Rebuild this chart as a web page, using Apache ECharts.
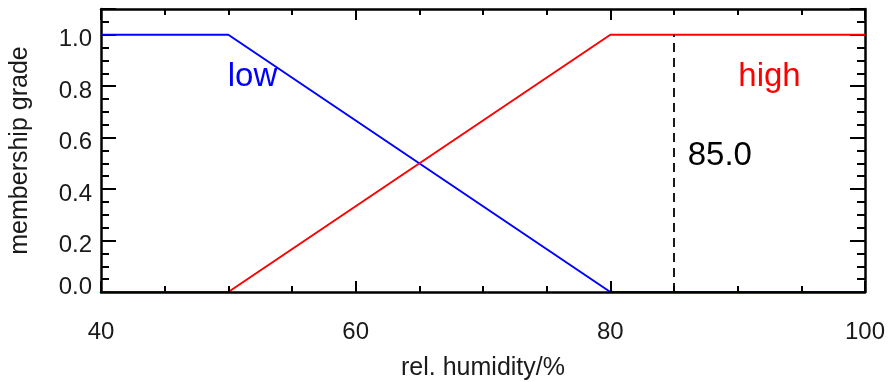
<!DOCTYPE html>
<html>
<head>
<meta charset="utf-8">
<script src="https://cdn.jsdelivr.net/npm/echarts@6/dist/echarts.min.js"></script>
<style>
  html, body { margin: 0; padding: 0; background: #fff; }
  #chart { width: 890px; height: 382px; }
</style>
</head>
<body>
<div id="chart"></div>
<script>
// membership functions (breakpoints in rel. humidity / %)
const humidity = [40, 50, 80, 100];
const lowGrade = [1, 1, 0, 0];
const highGrade = [0, 0, 1, 1];
const threshold = 85.0;

// text annotations: [x, y, text, color]
const notes = [
  [51.9, 0.835, "low", "#0000ff"],
  [92.5, 0.835, "high", "#ff0000"],
  [88.6, 0.53, threshold.toFixed(1), "#000000"],
];

const FONT = "'Liberation Sans', Arial, Helvetica, sans-serif";
const chart = echarts.init(document.getElementById("chart"));

const frameLine = { show: true, onZero: false, lineStyle: { color: "#000", width: 2.5 } };

const xBase = {
  type: "value",
  min: 40,
  max: 100,
  interval: 20,
  axisLine: frameLine,
  axisTick: { show: true, inside: true, length: 11, lineStyle: { color: "#000", width: 2 } },
  minorTick: { show: true, splitNumber: 4, length: 6, lineStyle: { color: "#000", width: 2 } },
  splitLine: { show: false },
};

const yBase = {
  type: "value",
  min: 0,
  max: 1.1,
  interval: 0.2,
  z: 0,
  axisLine: frameLine,
  axisTick: { show: true, inside: true, length: 15, lineStyle: { color: "#000", width: 2 } },
  minorTick: { show: true, splitNumber: 4, length: 8, lineStyle: { color: "#000", width: 2 } },
  splitLine: { show: false },
};

const option = {
  backgroundColor: "#fff",
  animation: false,
  grid: { left: 101, right: 25, top: 9, bottom: 90, containLabel: false, outerBoundsMode: "none" },
  xAxis: [
    {
      ...xBase,
      position: "bottom",
      z: 5,
      name: "rel. humidity/%",
      nameLocation: "middle",
      nameGap: 64,
      nameTextStyle: { fontFamily: FONT, fontSize: 25, color: "#1a1a1a", verticalAlign: "top" },
      axisLabel: { margin: 28, fontFamily: FONT, fontSize: 24, color: "#1a1a1a" },
    },
    { ...xBase, position: "top", z: 0, axisLabel: { show: false } },
  ],
  yAxis: [
    {
      ...yBase,
      position: "left",
      name: "membership grade",
      nameLocation: "middle",
      nameGap: 68,
      nameTextStyle: { fontFamily: FONT, fontSize: 25, color: "#1a1a1a" },
      axisLabel: {
        margin: 9,
        showMaxLabel: false,
        fontFamily: FONT,
        fontSize: 24,
        color: "#1a1a1a",
        formatter: (v) => (v === 0 ? "{z|0.0}" : v <= 1 ? "{n|" + v.toFixed(1) + "}" : ""),
        rich: {
          n: { fontFamily: FONT, fontSize: 24, color: "#1a1a1a", padding: [10, 0, 0, 0] },
          z: { fontFamily: FONT, fontSize: 24, color: "#1a1a1a", padding: [0, 0, 9, 0] },
        },
      },
    },
    { ...yBase, position: "right", axisLabel: { show: false } },
  ],
  series: [
    {
      type: "line",
      data: humidity.map((h, i) => [h, lowGrade[i]]),
      symbol: "none",
      lineStyle: { color: "#0000ff", width: 2 },
      z: 2,
    },
    {
      type: "line",
      data: humidity.map((h, i) => [h, highGrade[i]]),
      symbol: "none",
      lineStyle: { color: "#ff0000", width: 2 },
      z: 2,
    },
    {
      type: "line",
      data: [[threshold, 0], [threshold, 1]],
      symbol: "none",
      lineStyle: { color: "#000", width: 1.8, type: [9, 6] },
      z: 2,
    },
    {
      type: "scatter",
      symbolSize: 0,
      itemStyle: { opacity: 1 },
      data: notes.map((n) => ({
        value: [n[0], n[1]],
        label: {
          show: true,
          position: "inside",
          formatter: n[2],
          fontFamily: FONT,
          fontSize: 33,
          color: n[3],
          textBorderWidth: 0,
        },
      })),
      z: 6,
    },
  ],
};

chart.setOption(option);
</script>
</body>
</html>
